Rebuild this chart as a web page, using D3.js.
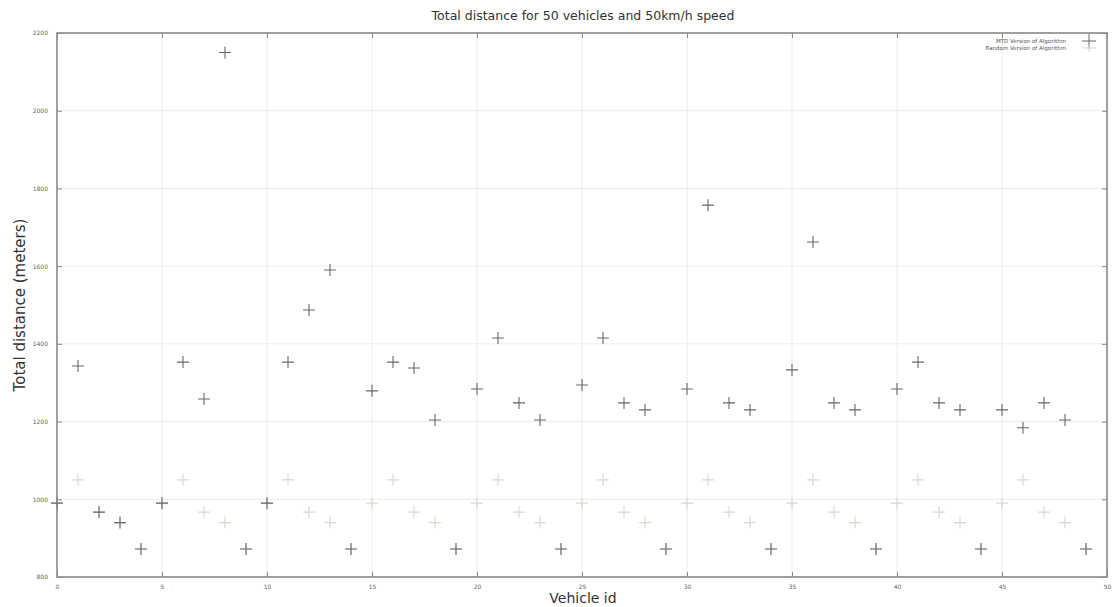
<!DOCTYPE html>
<html><head><meta charset="utf-8">
<script src="https://cdn.jsdelivr.net/npm/d3@7"></script>
<style>body{margin:0;background:#fff}svg{display:block}</style>
</head><body><svg id="c" width="1115" height="607"></svg>
<script>
const vehicleIds = [0,1,2,3,4,5,6,7,8,9,10,11,12,13,14,15,16,17,18,19,20,21,22,23,24,25,26,27,28,29,30,31,32,33,34,35,36,37,38,39,40,41,42,43,44,45,46,47,48,49];
const mtdValues = [990,1343,967,940,872,990,1353,1258,2150,872,990,1353,1487,1590,872,1279,1353,1338,1204,872,1284,1415,1248,1204,872,1294,1415,1248,1230,872,1284,1757,1248,1230,872,1333,1662,1248,1230,872,1284,1353,1248,1230,872,1230,1184,1248,1204,872];
const randomValues = [990,1050,967,940,872,990,1050,967,940,872,990,1050,967,940,872,990,1050,967,940,872,990,1050,967,940,872,990,1050,967,940,872,990,1050,967,940,872,990,1050,967,940,872,990,1050,967,940,872,990,1050,967,940,872];
const xTicks = [0,5,10,15,20,25,30,35,40,45,50];
const yTicks = [800,1000,1200,1400,1600,1800,2000,2200];
const seriesNames = ["MTD Version of Algorithm","Random Version of Algorithm"];

const svg = d3.select("#c");
const L=57,R=1107,T=33,B=577;
const x = d3.scaleLinear().domain([0,50]).range([L,R]);
const y = d3.scaleLinear().domain([800,2200]).range([B,T]);

const g = svg.append("g");
g.selectAll(".gx").data(xTicks).enter().append("line")
 .attr("x1",d=>x(d)).attr("x2",d=>x(d)).attr("y1",T).attr("y2",B)
 .attr("stroke","#ececec").attr("stroke-width",1);
g.selectAll(".gy").data(yTicks).enter().append("line")
 .attr("x1",L).attr("x2",R).attr("y1",d=>y(d)).attr("y2",d=>y(d))
 .attr("stroke","#ececec").attr("stroke-width",1);

const fmt = d3.format("d");
const ax = svg.append("g").attr("transform",`translate(0,${B})`)
 .call(d3.axisBottom(x).tickValues(xTicks).tickFormat(fmt).tickSizeInner(-5).tickSizeOuter(0).tickPadding(8));
const ay = svg.append("g").attr("transform",`translate(${L},0)`)
 .call(d3.axisLeft(y).tickValues(yTicks).tickFormat(fmt).tickSizeInner(-5).tickSizeOuter(0).tickPadding(9));
const axT = svg.append("g").attr("transform",`translate(0,${T})`)
 .call(d3.axisTop(x).tickValues(xTicks).tickFormat("").tickSizeInner(-5).tickSizeOuter(0));
const ayR = svg.append("g").attr("transform",`translate(${R},0)`)
 .call(d3.axisRight(y).tickValues(yTicks).tickFormat("").tickSizeInner(-5).tickSizeOuter(0));
[ax,ay,axT,ayR].forEach(a=>{
  a.select(".domain").remove();
  a.selectAll(".tick line").attr("stroke","#888");
  a.selectAll(".tick text").attr("font-family","DejaVu Sans").attr("font-size",6).attr("fill","#666");
});
svg.append("rect").attr("x",L).attr("y",T).attr("width",R-L).attr("height",B-T)
 .attr("fill","none").attr("stroke","#8a8a8a").attr("stroke-width",1.6);

function cross(cls, data, color, size){
  const s = size/2;
  const p = svg.append("g").attr("class",cls);
  p.selectAll("path").data(data).enter().append("path")
   .attr("d",d=>`M${x(d.id)-s},${y(d.v)}H${x(d.id)+s}M${x(d.id)},${y(d.v)-s}V${y(d.v)+s}`)
   .attr("stroke",color).attr("stroke-width",1.1).attr("fill","none");
}
cross("s2",vehicleIds.map((id,i)=>({id,v:randomValues[i]})),"#d3dbcf",12);
cross("s1",vehicleIds.map((id,i)=>({id,v:mtdValues[i]})),"#6e6468",12);

const lg = svg.append("g").attr("font-family","DejaVu Sans").attr("font-size",5.5).attr("fill","#555");
lg.append("text").attr("x",1066).attr("y",43).attr("text-anchor","end").text(seriesNames[0]);
lg.append("text").attr("x",1066).attr("y",50).attr("text-anchor","end").text(seriesNames[1]);
lg.append("path").attr("d","M1082,41H1096M1089,34V48").attr("stroke","#6e6468").attr("stroke-width",1);
lg.append("path").attr("d","M1082,48H1096M1089,44V52").attr("stroke","#d3dbcf").attr("stroke-width",1);

svg.append("text").attr("x",583).attr("y",20).attr("text-anchor","middle")
 .attr("font-family","DejaVu Sans").attr("font-size",12.5).attr("fill","#333")
 .text("Total distance for 50 vehicles and 50km/h speed");
svg.append("text").attr("x",583).attr("y",603).attr("text-anchor","middle")
 .attr("font-family","DejaVu Sans").attr("font-size",14).attr("fill","#333")
 .text("Vehicle id");
svg.append("text").attr("transform","translate(25,305) rotate(-90)").attr("text-anchor","middle")
 .attr("font-family","DejaVu Sans").attr("font-size",15).attr("fill","#333")
 .text("Total distance (meters)");
</script></body></html>
